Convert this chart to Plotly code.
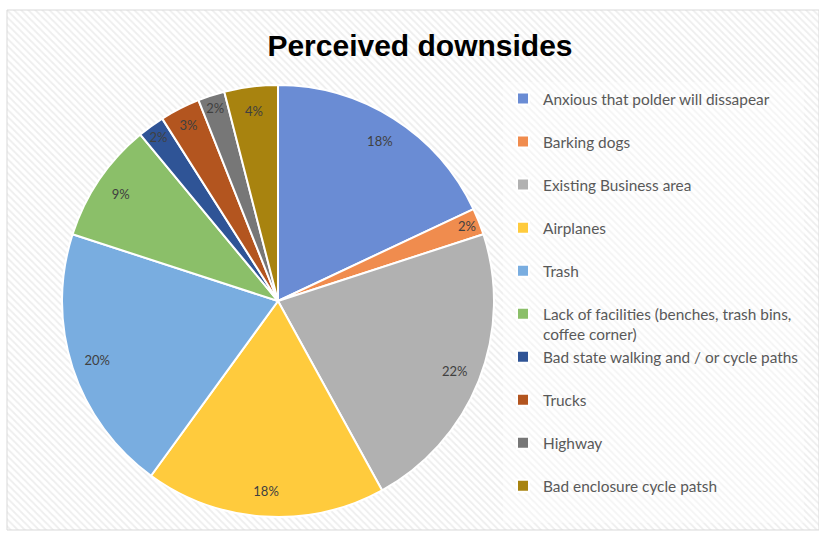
import plotly.graph_objects as go

labels = [
    "Anxious that polder will dissapear",
    "Barking dogs",
    "Existing Business area",
    "Airplanes",
    "Trash",
    "Lack of facilities (benches, trash bins,<br>coffee corner)",
    "Bad state walking and / or cycle paths",
    "Trucks",
    "Highway",
    "Bad enclosure cycle patsh",
]
values = [18, 2, 22, 18, 20, 9, 2, 3, 2, 4]
slice_colors = ["#6a8cd4", "#f08c4e", "#b1b1b1", "#ffcb3d", "#79ade0",
                "#8bbf69", "#2f5496", "#b3551f", "#777777", "#a8830f"]
legend_labels = [l if "<br>" in l else l + "<br> " for l in labels]

W, H = 819, 535
cx, cy, R = 278, 301, 216
dom_x = [(cx - R) / W, (cx + R) / W]
dom_y = [(H - cy - R) / H, (H - cy + R) / H]

fig = go.Figure()

# hatched background
fig.add_trace(go.Bar(
    x=[0], y=[1], width=[1], xaxis="x", yaxis="y",
    marker=dict(color="white", line=dict(width=0),
                pattern=dict(shape="\\", fgcolor="#dedede", bgcolor="#ffffff",
                             size=5, solidity=0.35)),
    showlegend=False, hoverinfo="skip",
))

fig.add_trace(go.Pie(
    labels=legend_labels, values=values, sort=False, direction="clockwise",
    rotation=0, domain=dict(x=dom_x, y=dom_y),
    marker=dict(colors=slice_colors, line=dict(color="white", width=2)),
    textinfo="none", hoverinfo="label+percent",
))

# ring overlay carrying the percentage labels near the rim
fig.add_trace(go.Pie(
    labels=legend_labels, values=values, sort=False, direction="clockwise",
    rotation=0, domain=dict(x=dom_x, y=dom_y), hole=0.76,
    marker=dict(colors=["rgba(0,0,0,0)"] * len(values), line=dict(width=0)),
    textinfo="percent", textposition="inside", insidetextorientation="horizontal",
    textfont=dict(family="Lato", size=13, color="#404040"),
    showlegend=False, hoverinfo="skip",
))

fig.update_layout(
    width=W, height=H,
    margin=dict(l=0, r=0, t=0, b=0),
    paper_bgcolor="white",
    plot_bgcolor="rgba(0,0,0,0)",
    xaxis=dict(domain=[7 / W, 1], range=[-0.5, 0.5], visible=False, fixedrange=True),
    yaxis=dict(domain=[5 / H, 525 / H], range=[0, 1], visible=False, fixedrange=True),
    bargap=0,
    title=dict(text="<b>Perceived downsides</b>", x=420 / W, xanchor="center",
               y=1 - 45 / H, yanchor="middle",
               font=dict(family="Liberation Sans", size=30, color="#000000")),
    legend=dict(x=503 / W, xanchor="left", y=1 - 82 / H, yanchor="top",
                valign="top", bgcolor="rgba(255,255,255,0.4)",
                font=dict(family="Lato", size=15.4, color="#595959"),
                itemclick=False, itemdoubleclick=False),
    shapes=[dict(type="rect", xref="paper", yref="paper",
                 x0=7 / W, x1=1, y0=5 / H, y1=525 / H,
                 line=dict(color="#d9d9d9", width=1))],
)

fig.write_html("out.html")
